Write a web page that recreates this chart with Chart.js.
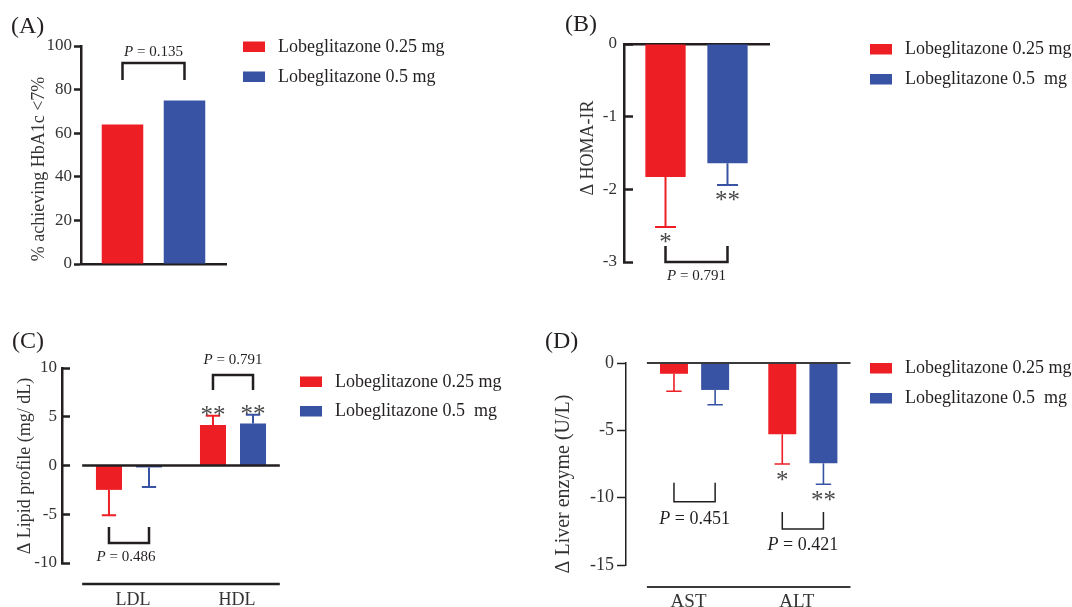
<!DOCTYPE html>
<html>
<head>
<meta charset="utf-8">
<title>Lobeglitazone outcomes</title>
<script src="https://cdn.jsdelivr.net/npm/chart.js@4.4.1/dist/chart.umd.min.js"></script>
<style>
  body { margin: 0; background: #fff; }
  #wrap { position: relative; width: 1072px; height: 607px; overflow: hidden; background: #fff; }
  canvas { position: absolute; }
</style>
</head>
<body>
<div id="wrap">
  <canvas id="chartA" width="536" height="300" style="left:0;top:0"></canvas>
  <canvas id="chartB" width="536" height="300" style="left:536px;top:0"></canvas>
  <canvas id="chartC" width="536" height="307" style="left:0;top:300px"></canvas>
  <canvas id="chartD" width="536" height="307" style="left:536px;top:300px"></canvas>
</div>
<script>
'use strict';

// series
var seriesNames = ['Lobeglitazone 0.25 mg', 'Lobeglitazone 0.5 mg'];
var seriesNamesWide = ['Lobeglitazone 0.25 mg', 'Lobeglitazone 0.5  mg'];

// (A) % achieving HbA1c <7%
var hbaLow = [64];
var hbaHigh = [75];
var hbaTicks = [0, 20, 40, 60, 80, 100];
var hbaP = '0.135';

// (B) change in HOMA-IR (mean, end of error bar)
var homaLow = [-1.83];
var homaHigh = [-1.64];
var homaLowErr = [-2.52];
var homaHighErr = [-1.94];
var homaLowStars = ['*'];
var homaHighStars = ['**'];
var homaTicks = [-3, -2, -1, 0];
var homaP = '0.791';

// (C) change in lipid profile
var lipidCats = ['LDL', 'HDL'];
var lipidLow = [-2.5, 4.15];
var lipidHigh = [-0.2, 4.3];
var lipidLowErr = [-5.1, 5.1];
var lipidHighErr = [-2.2, 5.2];
var lipidLowStars = ['', '**'];
var lipidHighStars = ['', '**'];
var lipidTicks = [-10, -5, 0, 5, 10];
var lipidP = ['0.486', '0.791'];

// (D) change in liver enzymes
var liverCats = ['AST', 'ALT'];
var liverLow = [-0.8, -5.3];
var liverHigh = [-2.0, -7.45];
var liverLowErr = [-2.1, -7.5];
var liverHighErr = [-3.1, -9.0];
var liverLowStars = ['', '*'];
var liverHighStars = ['', '**'];
var liverTicks = [-15, -10, -5, 0];
var liverP = ['0.451', '0.421'];

var RED = '#ED1F24';
var BLUE = '#3953A4';
var INK = '#231F20';
var TEXT = '#333333';
var SERIF = '"Liberation Serif", "Times New Roman", serif';

Chart.defaults.font.family = SERIF;
Chart.defaults.color = TEXT;

function font(size, italic) {
  return (italic ? 'italic ' : '') + size + 'px ' + SERIF;
}

//draws "P = 0.xxx" with an italic P, centred on x
function drawP(ctx, p, x, y, size) {
  var rest = ' = ' + p;
  ctx.font = font(size, true);
  var wa = ctx.measureText('P').width;
  ctx.font = font(size);
  var wb = ctx.measureText(rest).width;
  var left = x - (wa + wb) / 2;
  ctx.textAlign = 'left';
  ctx.textBaseline = 'middle';
  ctx.fillStyle = INK;
  ctx.font = font(size, true);
  ctx.fillText('P', left, y);
  ctx.font = font(size);
  ctx.fillText(rest, left + wa, y);
}

//error bars, stars, brackets, legend, titles
var figurePlugin = {
  id: 'figure',
  afterDraw: function(chart, args, o) {
    var ctx = chart.ctx;
    var ys = chart.scales.y;
    var xs = chart.scales.x;
    ctx.save();

    // error bars and significance stars
    chart.data.datasets.forEach(function(ds, di) {
      if (!ds.errorTo) return;
      var meta = chart.getDatasetMeta(di);
      meta.data.forEach(function(bar, i) {
        var yEnd = ys.getPixelForValue(ds.errorTo[i]);
        var half = bar.width * o.capRatio / 2;
        ctx.strokeStyle = ds.backgroundColor;
        ctx.lineWidth = o.errWidth;
        ctx.beginPath();
        ctx.moveTo(bar.x, bar.y);
        ctx.lineTo(bar.x, yEnd);
        ctx.moveTo(bar.x - half, yEnd);
        ctx.lineTo(bar.x + half, yEnd);
        ctx.stroke();
        if (ds.stars && ds.stars[i]) {
          var dir = yEnd > bar.y ? 1 : -1;
          var cy = yEnd + dir * o.starGap;
          ctx.font = font(o.starSize);
          ctx.fillStyle = '#4a4a4a';
          ctx.textAlign = 'center';
          ctx.textBaseline = 'alphabetic';
          ctx.fillText(ds.stars[i], bar.x, cy + o.starSize * 0.47);
        }
      });
    });

    // zero line and detached base line
    if (o.zeroLine) {
      var zx1 = xs.getPixelForValue(o.zeroLine.from);
      var zx2 = xs.getPixelForValue(o.zeroLine.to);
      var zy = ys.getPixelForValue(0);
      ctx.strokeStyle = o.zeroLine.color;
      ctx.lineWidth = o.zeroLine.width;
      ctx.beginPath();
      ctx.moveTo(zx1, zy);
      ctx.lineTo(zx2, zy);
      var by = ys.bottom + o.zeroLine.baseGap;
      ctx.moveTo(zx1, by);
      ctx.lineTo(zx2, by);
      ctx.stroke();
    }

    // brackets with P values
    (o.brackets || []).forEach(function(b) {
      var x1 = chart.getDatasetMeta(0).data[b.cat].x;
      var x2 = chart.getDatasetMeta(1).data[b.cat].x;
      var yAt = ys.getPixelForValue(b.at);
      var yLeg = ys.getPixelForValue(b.leg);
      ctx.strokeStyle = INK;
      ctx.lineWidth = o.bracketWidth;
      ctx.beginPath();
      ctx.moveTo(x1, yLeg);
      ctx.lineTo(x1, yAt);
      ctx.lineTo(x2, yAt);
      ctx.lineTo(x2, yLeg);
      ctx.stroke();
      drawP(ctx, b.p, (x1 + x2) / 2 + (b.dx || 0), ys.getPixelForValue(b.textAt), o.pSize);
    });

    // legend
    var lg = o.legend;
    chart.data.datasets.forEach(function(ds, di) {
      var top = lg.y + di * lg.gap;
      ctx.fillStyle = ds.backgroundColor;
      ctx.fillRect(lg.x, top, 22, 10.5);
      ctx.fillStyle = INK;
      ctx.font = font(18);
      ctx.textAlign = 'left';
      ctx.textBaseline = 'middle';
      ctx.fillText(ds.label, lg.x + 35, top + 5.5);
    });

    // panel letter
    ctx.fillStyle = INK;
    ctx.font = font(24);
    ctx.textAlign = 'left';
    ctx.textBaseline = 'middle';
    ctx.fillText(o.letter.text, o.letter.x, o.letter.y);

    // y title
    ctx.save();
    ctx.translate(o.yTitle.x, o.yTitle.y);
    ctx.rotate(-Math.PI / 2);
    ctx.fillStyle = TEXT;
    ctx.font = font(o.yTitle.size);
    ctx.textAlign = 'center';
    ctx.textBaseline = 'middle';
    ctx.fillText(o.yTitle.text, 0, 0);
    ctx.restore();

    ctx.restore();
  }
};

function yAxis(ticks, width, tickLen, pad, lineW, size) {
  return {
    min: Math.min.apply(null, ticks),
    max: Math.max.apply(null, ticks),
    afterBuildTicks: function(s) {
      s.ticks = ticks.map(function(v) { return {value: v}; });
    },
    afterFit: function(s) { s.width = width; },
    grid: {drawOnChartArea: false, tickLength: tickLen, tickWidth: lineW, tickColor: INK},
    border: {color: INK, width: lineW},
    ticks: {padding: pad, color: TEXT, font: {size: size}, callback: function(v) { return String(v); }}
  };
}

function flatXAxis(position) {
  return {
    position: position,
    z: 1,
    grid: {drawOnChartArea: false, drawTicks: false},
    border: {color: INK, width: 2.5},
    ticks: {display: false},
    afterFit: function(s) { s.height = 0; }
  };
}

function catXAxis(cats, min, max, labelOffset, size, height) {
  return {
    type: 'linear',
    min: min,
    max: max,
    offset: false,
    grid: {drawOnChartArea: false, drawTicks: false, offset: false},
    border: {display: false},
    afterBuildTicks: function(s) {
      s.ticks = cats.map(function(c, i) { return {value: i + 1}; });
    },
    afterFit: function(s) { s.height = height; },
    ticks: {
      padding: 26, labelOffset: labelOffset, color: TEXT, font: {size: size},
      maxRotation: 0, autoSkip: false,
      callback: function(v) { return cats[v - 1]; }
    }
  };
}

function points(values) {
  return values.map(function(v, i) { return {x: i + 1, y: v}; });
}

var base = {
  responsive: false,
  animation: false,
  events: []
};

//(A)
new Chart(document.getElementById('chartA'), {
  type: 'bar',
  data: {
    labels: [''],
    datasets: [
      {label: seriesNames[0], data: hbaLow, backgroundColor: RED},
      {label: seriesNames[1], data: hbaHigh, backgroundColor: BLUE}
    ]
  },
  options: Object.assign({}, base, {
    layout: {padding: {left: 21, top: 46, right: 310, bottom: 36}},
    datasets: {bar: {categoryPercentage: 0.855, barPercentage: 0.67}},
    scales: {
      x: flatXAxis('bottom'),
      y: yAxis(hbaTicks, 60, 7, 2, 2.5, 17)
    },
    plugins: {
      legend: {display: false},
      tooltip: {enabled: false},
      figure: {
        capRatio: 0.5, errWidth: 2, starGap: 11, starSize: 25,
        bracketWidth: 2.5, pSize: 15,
        brackets: [{cat: 0, at: 92.2, leg: 84.4, textAt: 97.2, p: hbaP}],
        legend: {x: 243, y: 41.5, gap: 30},
        letter: {text: '(A)', x: 11, y: 27},
        yTitle: {text: '% achieving HbA1c <7%', x: 39, y: 169, size: 18}
      }
    }
  }),
  plugins: [figurePlugin]
});

//(B)
new Chart(document.getElementById('chartB'), {
  type: 'bar',
  data: {
    labels: [''],
    datasets: [
      {label: seriesNamesWide[0], data: homaLow, errorTo: homaLowErr, stars: homaLowStars, backgroundColor: RED},
      {label: seriesNamesWide[1], data: homaHigh, errorTo: homaHighErr, stars: homaHighStars, backgroundColor: BLUE}
    ]
  },
  options: Object.assign({}, base, {
    layout: {padding: {left: 28, top: 44, right: 303, bottom: 38}},
    datasets: {bar: {categoryPercentage: 0.855, barPercentage: 0.65}},
    scales: {
      x: flatXAxis('top'),
      y: yAxis(homaTicks, 60, -9, 16, 2.5, 17)
    },
    plugins: {
      legend: {display: false},
      tooltip: {enabled: false},
      figure: {
        capRatio: 0.52, errWidth: 2, starGap: 11, starSize: 25,
        bracketWidth: 2.5, pSize: 15,
        brackets: [{cat: 0, at: -3, leg: -2.78, textAt: -3.2, p: homaP}],
        legend: {x: 334, y: 44, gap: 30},
        letter: {text: '(B)', x: 29, y: 25},
        yTitle: {text: '\u0394 HOMA-IR', x: 52, y: 148, size: 18}
      }
    }
  }),
  plugins: [figurePlugin]
});

//(C)
new Chart(document.getElementById('chartC'), {
  type: 'bar',
  data: {
    datasets: [
      {label: seriesNamesWide[0], data: points(lipidLow), errorTo: lipidLowErr, stars: lipidLowStars, backgroundColor: RED},
      {label: seriesNamesWide[1], data: points(lipidHigh), errorTo: lipidHighErr, stars: lipidHighStars, backgroundColor: BLUE}
    ]
  },
  options: Object.assign({}, base, {
    layout: {padding: {left: 12, top: 68, right: 251, bottom: 0}},
    datasets: {bar: {categoryPercentage: 0.77, barPercentage: 0.65}},
    scales: {
      x: catXAxis(lipidCats, 0.356, 2.5, 4, 18, 44),
      y: yAxis(lipidTicks, 50, -8, 13, 2.5, 17)
    },
    plugins: {
      legend: {display: false},
      tooltip: {enabled: false},
      figure: {
        capRatio: 0.55, errWidth: 2, starGap: 5, starSize: 25,
        bracketWidth: 2.5, pSize: 15,
        zeroLine: {from: 0.55, to: 2.45, color: INK, width: 2.5, baseGap: 21},
        brackets: [
          {cat: 0, at: -7.95, leg: -6.3, textAt: -9.4, p: lipidP[0], dx: -3},
          {cat: 1, at: 9.28, leg: 7.74, textAt: 10.8, p: lipidP[1]}
        ],
        legend: {x: 300, y: 76.5, gap: 29.5},
        letter: {text: '(C)', x: 12, y: 42},
        yTitle: {text: '\u0394 Lipid profile (mg/ dL)', x: 25, y: 166, size: 18}
      }
    }
  }),
  plugins: [figurePlugin]
});

//(D)
new Chart(document.getElementById('chartD'), {
  type: 'bar',
  data: {
    datasets: [
      {label: seriesNamesWide[0], data: points(liverLow), errorTo: liverLowErr, stars: liverLowStars, backgroundColor: RED},
      {label: seriesNamesWide[1], data: points(liverHigh), errorTo: liverHighErr, stars: liverHighStars, backgroundColor: BLUE}
    ]
  },
  options: Object.assign({}, base, {
    layout: {padding: {left: 30, top: 63, right: 215, bottom: 0}},
    datasets: {bar: {categoryPercentage: 0.76, barPercentage: 0.68}},
    scales: {
      x: catXAxis(liverCats, 0.367, 2.5, -6, 19, 42),
      y: yAxis(liverTicks, 60, 9, 3, 1.5, 18)
    },
    plugins: {
      legend: {display: false},
      tooltip: {enabled: false},
      figure: {
        capRatio: 0.55, errWidth: 1.6, starGap: 12, starSize: 25,
        bracketWidth: 1.5, pSize: 18,
        zeroLine: {from: 0.56, to: 2.44, color: '#3a3a3a', width: 2, baseGap: 22},
        brackets: [
          {cat: 0, at: -10.3, leg: -8.9, textAt: -11.6, p: liverP[0]},
          {cat: 1, at: -12.33, leg: -11.07, textAt: -13.5, p: liverP[1]}
        ],
        legend: {x: 334, y: 63, gap: 30},
        letter: {text: '(D)', x: 9, y: 42},
        yTitle: {text: '\u0394 Liver enzyme (U/L)', x: 28, y: 184, size: 20}
      }
    }
  }),
  plugins: [figurePlugin]
});
</script>
</body>
</html>
